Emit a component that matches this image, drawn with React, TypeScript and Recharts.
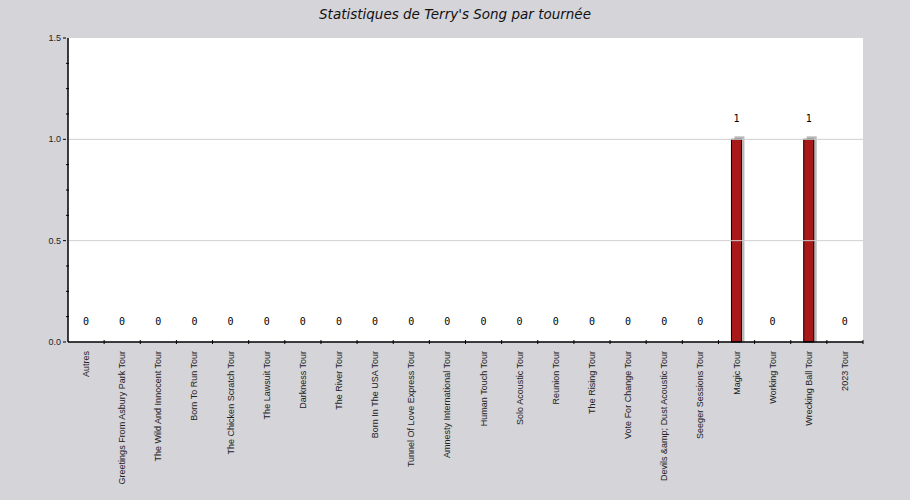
import { Bar, BarChart, CartesianGrid, LabelList, ReferenceLine, XAxis, YAxis } from "recharts";

const tours = [
  "Autres",
  "Greetings From Asbury Park Tour",
  "The Wild And Innocent Tour",
  "Born To Run Tour",
  "The Chicken Scratch Tour",
  "The Lawsuit Tour",
  "Darkness Tour",
  "The River Tour",
  "Born In The USA Tour",
  "Tunnel Of Love Express Tour",
  "Amnesty International Tour",
  "Human Touch Tour",
  "Solo Acoustic Tour",
  "Reunion Tour",
  "The Rising Tour",
  "Vote For Change Tour",
  "Devils &amp; Dust Acoustic Tour",
  "Seeger Sessions Tour",
  "Magic Tour",
  "Working Tour",
  "Wrecking Ball Tour",
  "2023 Tour",
];

const plays = [0, 0, 0, 0, 0, 0, 0, 0, 0, 0, 0, 0, 0, 0, 0, 0, 0, 0, 1, 0, 1, 0];

const yTicks = [0, 0.125, 0.25, 0.375, 0.5, 0.625, 0.75, 0.875, 1, 1.125, 1.25, 1.375, 1.5];
const gridValues = [0.5, 1];

const data = tours.map((tour, i) => ({ tour, plays: plays[i] }));

const W = 910;
const H = 500;
const margin = { top: 38, right: 47, left: 0, bottom: 8 };
const yAxisWidth = 68;
const plotWidth = W - margin.left - margin.right - yAxisWidth;
const band = plotWidth / tours.length;

function YTick({ x, y, payload }: any) {
  const v = payload.value;
  const major = Math.abs(v * 2 - Math.round(v * 2)) < 1e-6;
  if (!major) {
    return <line x1={x} x2={x + 3} y1={y} y2={y} stroke="#000" />;
  }
  return (
    <g>
      <line x1={x - 3} x2={x} y1={y} y2={y} stroke="#000" />
      <text x={x - 5} y={y + 3} textAnchor="end" fontSize={9} fill="#222" fontFamily="Liberation Sans, Arial, sans-serif">
        {v.toFixed(1)}
      </text>
    </g>
  );
}

function XTick({ x, y, payload }: any) {
  return (
    <g>
      <line x1={x + band / 2} x2={x + band / 2} y1={y - 4} y2={y} stroke="#000" />
      <text
        transform={`translate(${x + 3},${y + 7}) rotate(-90)`}
        textAnchor="end"
        fontSize={9}
        fill="#222"
        fontFamily="Liberation Sans, Arial, sans-serif"
      >
        {payload.value}
      </text>
    </g>
  );
}

function ShadowBar({ x, y, width, height }: any) {
  if (!height || height <= 0) return null;
  return (
    <g>
      <rect x={x + 3} y={y - 3} width={width} height={height + 3} fill="#b9b9b9" />
      <rect x={x} y={y} width={width} height={height} fill="#a8191a" stroke="#000" strokeWidth={1} />
    </g>
  );
}

export default function App() {
  return (
    <div style={{ position: "absolute", left: 0, top: 0, width: W, height: H, background: "#d5d4d9" }}>
      <div
        style={{
          position: "absolute",
          top: 6,
          left: 0,
          width: W,
          textAlign: "center",
          fontFamily: "DejaVu Sans, sans-serif",
          fontStyle: "italic",
          fontSize: 13.5,
          color: "#111",
        }}
      >
        Statistiques de Terry's Song par tournée
      </div>
      <BarChart width={W} height={H} data={data} margin={margin} barCategoryGap={0}>
        <CartesianGrid fill="#ffffff" horizontal={false} vertical={false} stroke="none" />
        {gridValues.map((v) => (
          <ReferenceLine key={v} y={v} stroke="#cfcfcf" strokeWidth={1} />
        ))}
        <XAxis
          dataKey="tour"
          interval={0}
          height={150}
          tickLine={false}
          tickSize={0}
          axisLine={{ stroke: "#000", strokeWidth: 1.5 }}
          tick={<XTick />}
        />
        <YAxis
          domain={[0, 1.5]}
          ticks={yTicks}
          interval={0}
          width={yAxisWidth}
          tickLine={false}
          tickSize={0}
          axisLine={{ stroke: "#000", strokeWidth: 1.5 }}
          tick={<YTick />}
        />
        <Bar dataKey="plays" barSize={10} shape={<ShadowBar />} isAnimationActive={false}>
          <LabelList
            dataKey="plays"
            position="top"
            offset={17}
            fontSize={10}
            fill="#000"
            fontFamily="DejaVu Sans Mono, monospace"
          />
        </Bar>
      </BarChart>
    </div>
  );
}
